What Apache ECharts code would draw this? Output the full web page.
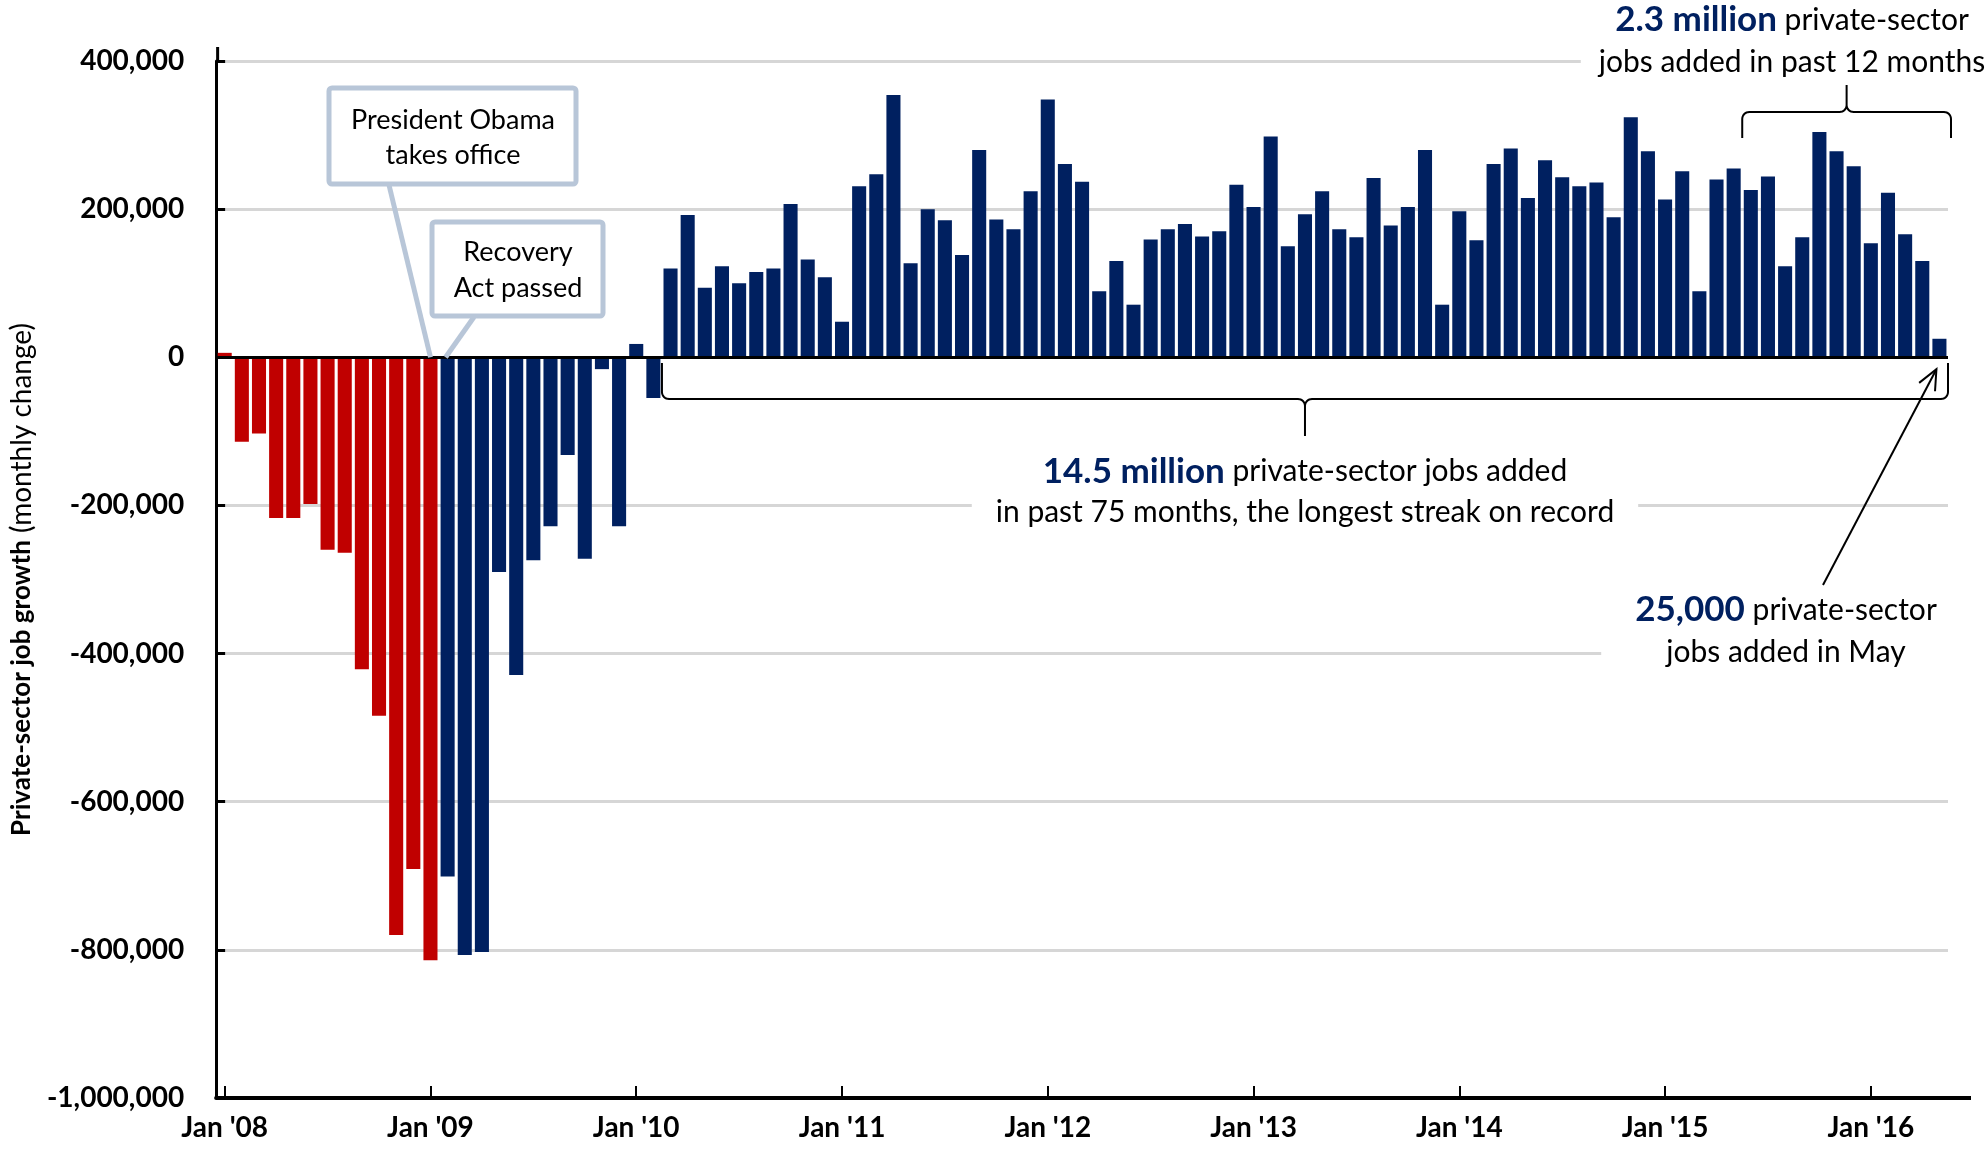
<!DOCTYPE html>
<html><head><meta charset="utf-8">
<script src="https://cdn.jsdelivr.net/npm/echarts@6/dist/echarts.min.js"></script>
<style>html,body{margin:0;padding:0;background:#fff}#c{width:1986px;height:1151px}</style>
</head><body><div id="c"></div>
<script>
// ---------- data ----------
const monthNames = ['Jan','Feb','Mar','Apr','May','Jun','Jul','Aug','Sep','Oct','Nov','Dec'];
const yearLabels = ['08','09','10','11','12','13','14','15','16'];
const monthsInLastYear = 5;
const categories = [];
yearLabels.forEach((y, yi) => {
  const n = yi === yearLabels.length - 1 ? monthsInLastYear : 12;
  for (let m = 0; m < n; m++) categories.push(monthNames[m] + " '" + y);
});

// Jan 2008 - Jan 2009 (red)
const jobsBeforeObama = [6000, -114000, -103000, -217000, -217000, -198000, -260000, -264000, -421000, -484000, -780000, -691000, -814000];
// Feb 2009 - May 2016 (navy)
const jobs2009 = [-701000, -807000, -803000, -290000, -429000, -274000, -228000, -132000, -272000, -16000, -228000];
const jobs2010 = [18000, -55000, 120000, 192000, 94000, 123000, 100000, 115000, 120000, 207000, 132000, 108000];
const jobs2011 = [48000, 231000, 247000, 354000, 127000, 200000, 185000, 138000, 280000, 186000, 173000, 224000];
const jobs2012 = [348000, 261000, 237000, 89000, 130000, 71000, 159000, 173000, 180000, 163000, 170000, 233000];
const jobs2013 = [203000, 298000, 150000, 193000, 224000, 173000, 162000, 242000, 178000, 203000, 280000, 71000];
const jobs2014 = [197000, 158000, 261000, 282000, 215000, 266000, 243000, 231000, 236000, 189000, 324000, 278000];
const jobs2015 = [213000, 251000, 89000, 240000, 255000, 226000, 244000, 123000, 162000, 304000, 278000, 258000];
const jobs2016 = [154000, 222000, 166000, 130000, 25000];
const jobsSinceObama = [].concat(jobs2009, jobs2010, jobs2011, jobs2012, jobs2013, jobs2014, jobs2015, jobs2016);

const yMin = -1000000, yMax = 400000, yStep = 200000;

// ---------- chart ----------
const RED = '#C00000', NAVY = '#002060', FONT = 'Lato';
const redData = categories.map((c, i) => i < jobsBeforeObama.length ? jobsBeforeObama[i] : '-');
const navyData = categories.map((c, i) => i < jobsBeforeObama.length ? '-' : jobsSinceObama[i - jobsBeforeObama.length]);

const chart = echarts.init(document.getElementById('c'), null, {renderer: 'canvas'});
const isJan = (i) => i % 12 === 0;

chart.setOption({
  animation: false,
  backgroundColor: '#fff',
  grid: {left: 216, right: 38, top: 61, bottom: 53, containLabel: false},
  xAxis: {
    type: 'category', data: categories, boundaryGap: true,
    axisLine: {onZero: false, lineStyle: {color: '#000', width: 4}},
    axisTick: {show: true, inside: true, length: 12, alignWithLabel: true, interval: (i) => isJan(i), lineStyle: {color: '#000', width: 2}},
    axisLabel: {interval: (i) => isJan(i), margin: 16, fontFamily: FONT, fontWeight: 'bold', fontSize: 28, color: '#000'},
    splitLine: {show: false}
  },
  yAxis: {
    type: 'value', min: yMin, max: yMax, interval: yStep,
    name: '{b|Private-sector job growth}{r| (monthly change)}',
    nameLocation: 'middle', nameRotate: 90, nameGap: 180,
    nameTextStyle: {fontFamily: FONT, fontSize: 27, color: '#000', rich: {
      b: {fontFamily: FONT, fontSize: 26, fontWeight: 'bold', color: '#000'},
      r: {fontFamily: FONT, fontSize: 28, fontWeight: 'normal', color: '#000'}
    }},
    axisLine: {show: true, lineStyle: {color: '#000', width: 3}},
    axisTick: {show: true, inside: true, length: 9, lineStyle: {color: '#000', width: 3}},
    axisLabel: {margin: 32, fontFamily: FONT, fontWeight: 'bold', fontSize: 28, color: '#000',
      formatter: (v) => v.toLocaleString('en-US')},
    splitLine: {show: true, lineStyle: {color: '#d6d6d6', width: 3}}
  },
  series: [
    {type: 'bar', name: 'before', data: redData, itemStyle: {color: RED}, barGap: '-100%', barCategoryGap: '18%', z: 2},
    {type: 'bar', name: 'after', data: navyData, itemStyle: {color: NAVY}, barGap: '-100%', barCategoryGap: '18%', z: 2,
      markLine: {silent: true, symbol: 'none', label: {show: false}, lineStyle: {color: '#000', width: 3, type: 'solid'},
        data: [{yAxis: 0}], z: 5}}
  ]
});

// ---------- annotations (positioned from the axes) ----------
const px = (i, v) => chart.convertToPixel({xAxisIndex: 0, yAxisIndex: 0}, [i, v]);
const pitch = px(1, 0)[0] - px(0, 0)[0];
const n = categories.length;
const x0 = px(0, 0)[0] - pitch / 2;
const xEnd = px(n - 1, 0)[0] + pitch / 2;
const yZero = px(0, 0)[1];
const yTop = px(0, yMax)[1];
const yBot = px(0, yMin)[1];

// curly brace: legs toward legY, horizontal at hY, centre tip at tipY
function brace(xa, xb, hY, legY, tipY) {
  const s = legY < hY ? -1 : 1, r = 7, xc = (xa + xb) / 2, PI = Math.PI;
  const pts = [[xa, legY]];
  for (let k = 0; k <= 8; k++) { const a = k / 8 * PI / 2; pts.push([xa + r - r * Math.cos(a), hY + s * r - s * r * Math.sin(a)]); }
  for (let k = 0; k <= 8; k++) { const a = k / 8 * PI / 2; pts.push([xc - r + r * Math.sin(a), hY - s * r + s * r * Math.cos(a)]); }
  pts.push([xc, tipY]);
  const back = [];
  for (let k = 0; k <= 8; k++) { const a = k / 8 * PI / 2; back.push([xc + r - r * Math.sin(a), hY - s * r + s * r * Math.cos(a)]); }
  back.reverse();
  pts.push.apply(pts, back);
  for (let k = 0; k <= 8; k++) { const a = k / 8 * PI / 2; pts.push([xb - r + r * Math.sin(a), hY + s * r - s * r * Math.cos(a)]); }
  pts.push([xb, legY]);
  return pts;
}

const boxStroke = '#b8c6d8';
const streakStart = jobsBeforeObama.length + 13; // Mar 2010
const last12Start = n - 12;
const bx1 = px(streakStart, 0)[0] - pitch / 2;
const bx2 = xEnd;
const tx1 = px(last12Start, 0)[0] - pitch / 2;
const obamaPt = px(jobsBeforeObama.length - 1, 0);
const recoveryPt = px(jobsBeforeObama.length, 0);
const lastPt = px(n - 1, 0);
const tip = [lastPt[0] - 3, lastPt[1] + 12];
const tail = [1823, 585];
const ang = Math.atan2(tail[1] - tip[1], tail[0] - tip[0]);
const ah = 22, aw = 0.42;
const head = [
  [tip[0] + ah * Math.cos(ang - aw), tip[1] + ah * Math.sin(ang - aw)],
  tip,
  [tip[0] + ah * Math.cos(ang + aw), tip[1] + ah * Math.sin(ang + aw)]
];

const annStyle = (text, x, y, pad, lh) => ({
  type: 'text', z: 20,
  style: {
    text: text, x: x, y: y, align: 'center', verticalAlign: 'middle',
    backgroundColor: '#fff', padding: pad, lineHeight: lh,
    rich: {
      b: {fontFamily: FONT, fontSize: 35, fontWeight: 'bold', fill: NAVY, color: NAVY, lineHeight: lh},
      r: {fontFamily: FONT, fontSize: 30, fill: '#000', color: '#000', lineHeight: lh}
    }
  }
});

chart.setOption({
  graphic: [
    // axis extensions
    {type: 'line', z: 10, shape: {x1: xEnd, y1: yBot, x2: 1971, y2: yBot}, style: {stroke: '#000', lineWidth: 4}},
    {type: 'line', z: 10, shape: {x1: x0 + 1.5, y1: yTop - 14, x2: x0 + 1.5, y2: yTop}, style: {stroke: '#000', lineWidth: 3}},
    // pointers
    {type: 'line', z: 8, shape: {x1: 389, y1: 185, x2: obamaPt[0], y2: yZero}, style: {stroke: boxStroke, lineWidth: 5}},
    {type: 'line', z: 8, shape: {x1: 474, y1: 317, x2: recoveryPt[0] - 2, y2: yZero}, style: {stroke: boxStroke, lineWidth: 5}},
    // boxes
    {type: 'rect', z: 9, shape: {x: 329, y: 88, width: 247, height: 96, r: 3}, style: {fill: '#fff', stroke: boxStroke, lineWidth: 5}},
    {type: 'rect', z: 9, shape: {x: 432, y: 222, width: 171, height: 94, r: 3}, style: {fill: '#fff', stroke: boxStroke, lineWidth: 5}},
    {type: 'text', z: 11, style: {text: 'President Obama\ntakes office', x: 453, y: 138, align: 'center', verticalAlign: 'middle',
      fontFamily: FONT, fontSize: 27, lineHeight: 35, fill: '#000'}},
    {type: 'text', z: 11, style: {text: 'Recovery\nAct passed', x: 518, y: 270, align: 'center', verticalAlign: 'middle',
      fontFamily: FONT, fontSize: 27, lineHeight: 36, fill: '#000'}},
    // braces
    {type: 'polyline', z: 12, shape: {points: brace(bx1, bx2, 399, 363, 436)}, style: {stroke: '#000', lineWidth: 2, fill: null}},
    {type: 'polyline', z: 12, shape: {points: brace(tx1, bx2 + 3, 112, 138, 85)}, style: {stroke: '#000', lineWidth: 2, fill: null}},
    // arrow
    {type: 'line', z: 12, shape: {x1: tail[0], y1: tail[1], x2: tip[0], y2: tip[1]}, style: {stroke: '#000', lineWidth: 2}},
    {type: 'polyline', z: 12, shape: {points: head}, style: {stroke: '#000', lineWidth: 2, fill: null}},
    // texts
    annStyle('{b|14.5 million}{r| private-sector jobs added}\n{r|in past 75 months, the longest streak on record}', (bx1 + bx2) / 2, 492, [2, 24], 41),
    annStyle('{b|2.3 million}{r| private-sector}\n{r|jobs added in past 12 months}', 1792, 41, [2, 18], 42),
    annStyle('{b|25,000}{r| private-sector}\n{r|jobs added in May}', 1786, 631, [2, 34], 42)
  ]
});
</script></body></html>
